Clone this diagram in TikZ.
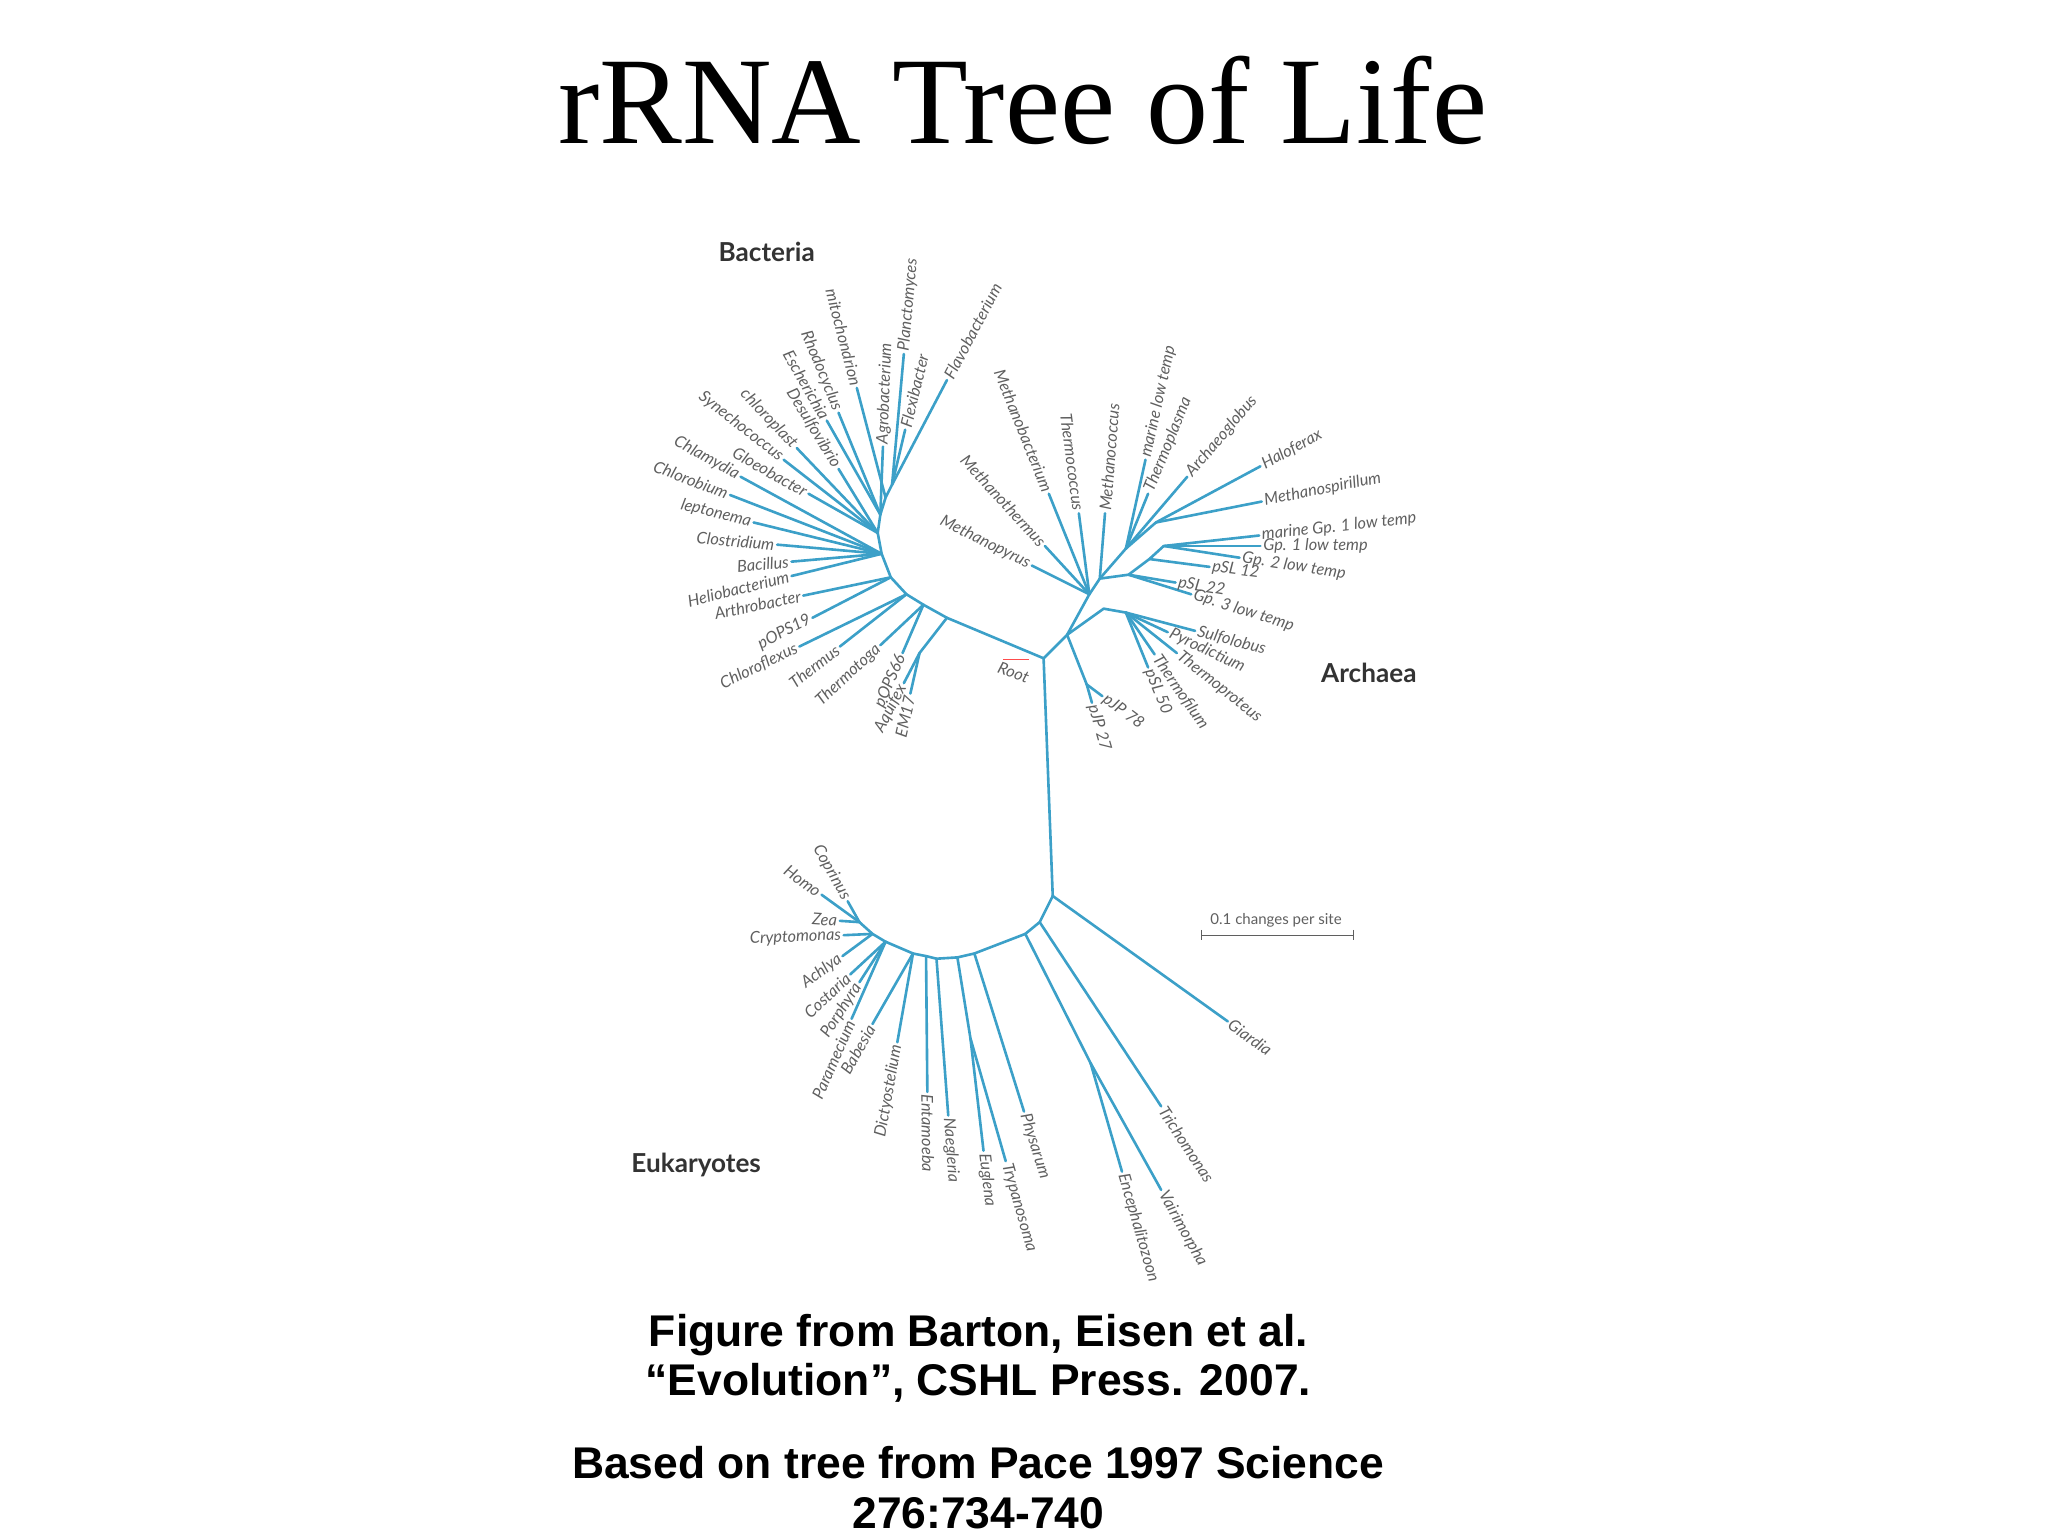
\documentclass[tikz,border=0pt]{standalone}
\usepackage{fontspec}
\setmainfont{Liberation Serif}
\newfontfamily\lato{Lato}
\newfontfamily\arial{Liberation Sans}
\usetikzlibrary{calc}
\definecolor{branch}{RGB}{60,160,200}
\definecolor{labgray}{RGB}{95,95,95}
\tikzset{
  br/.style={draw=branch,line width=2pt,line cap=round,line join=round},
  lab/.style={font=\lato\itshape\fontsize{12.5}{13}\selectfont,text=labgray,inner sep=2pt},
  sl/.style={anchor=east,rotate=180},
  sr/.style={anchor=west},
  grp/.style={font=\lato\bfseries\fontsize{20}{22}\selectfont,text=black!80},
  cite/.style={font=\arial\bfseries\fontsize{34}{38}\selectfont,align=center}
}
\newcommand\lf[5]{%
  \coordinate (#3) at #2;
  \draw[br] (#1) -- (#3);
  \path let \p1=($(#3)-(#1)$), \n1={atan2(\y1,\x1)} in
    node[lab,rotate=\n1,#5] at (#3) {#4};}
\begin{document}
\begin{tikzpicture}[x=1pt,y=-1pt]
\useasboundingbox (0,0) rectangle (1568,1176);
\node[font=\fontsize{95}{100}\selectfont,anchor=base] (title) at (783,110) {rRNA Tree of Life};

% root and trunk
\coordinate (R) at (799,504);
\coordinate (E0) at (806,686);
\draw[br] (R) -- (E0);
\coordinate (rr1) at (768,505); \coordinate (rr2) at (788,505);
\draw[red!70,line width=1.2pt] (rr1) -- (rr2);
\node[lab,rotate=-20] (root) at (776,515) {Root};

% ---------- Bacteria
\coordinate (b1) at (725,473); \coordinate (b2) at (707,463); \coordinate (b3) at (694,455);
\coordinate (b4) at (682,442); \coordinate (b5) at (675,424); \coordinate (b6) at (672,408);
\coordinate (b7) at (674,394); \coordinate (b8) at (678,381); \coordinate (b9) at (683,371);
\coordinate (ba) at (704,500);
\draw[br] (R) -- (b1) -- (b2) -- (b3) -- (b4) -- (b5) -- (b6) -- (b7) -- (b8) -- (b9);
\draw[br] (b1) -- (ba);
\lf{ba}{(697,531)}{em17}{EM17}{sl}
\lf{ba}{(692,523)}{aqu}{Aquifex}{sl}
\lf{b2}{(691,500)}{pops66}{pOPS66}{sl}
\lf{b2}{(674,494)}{tmtoga}{Thermotoga}{sl}
\lf{b3}{(643,495)}{thermus}{Thermus}{sl}
\lf{b3}{(612,495)}{cflex}{Chloroflexus}{sl}
\lf{b4}{(622,473)}{pops19}{pOPS19}{sl}
\lf{b4}{(615,456)}{arthro}{Arthrobacter}{sl}
\lf{b5}{(606,441)}{helio}{Heliobacterium}{sl}
\lf{b5}{(606,430)}{bacil}{Bacillus}{sl}
\lf{b5}{(595,417)}{clost}{Clostridium}{sl}
\lf{b5}{(577,400)}{lepto}{leptonema}{sl}
\lf{b5}{(559,379)}{chlorob}{Chlorobium}{sl}
\lf{b5}{(567,365)}{chlam}{Chlamydia}{sl}
\lf{b6}{(619,378)}{gloeo}{Gloeobacter}{sl}
\lf{b6}{(600,352)}{syn}{Synechococcus}{sl}
\lf{b6}{(610,343)}{chlp}{chloroplast}{sl}
\lf{b6}{(642,359)}{desulf}{Desulfovibrio}{sl}
\lf{b7}{(633,322)}{esch}{Escherichia}{sl}
\lf{b7}{(642,316)}{rhodo}{Rhodocyclus}{sl}
\lf{b8}{(656,297)}{mito}{mitochondrion}{sl}
\lf{b7}{(676,342)}{agro}{Agrobacterium}{sr}
\lf{b9}{(692,271)}{planc}{Planctomyces}{sr}
\lf{b9}{(693,329)}{flexi}{Flexibacter}{sr}
\lf{b9}{(725,291)}{flavo}{Flavobacterium}{sr}
\node[grp] (bact) at (587,193) {Bacteria};

% ---------- Archaea
\coordinate (A0) at (817,486); \coordinate (A1) at (834,455); \coordinate (A2) at (842,443);
\coordinate (A3) at (862,420); \coordinate (A4) at (885,400);
\coordinate (C) at (845,466); \coordinate (C2) at (862,469);
\coordinate (pj) at (832,524);
\coordinate (G) at (864,440); \coordinate (g2) at (880,428); \coordinate (g3) at (891,418);
\draw[br] (R) -- (A0) -- (A1) -- (A2) -- (A3) -- (A4);
\draw[br] (A0) -- (C) -- (C2);
\draw[br] (A0) -- (pj);
\draw[br] (A2) -- (G) -- (g2) -- (g3);
\lf{pj}{(844,533)}{pjp78}{pJP 78}{sr}
\lf{pj}{(836,538)}{pjp27}{pJP 27}{sr}
\lf{C2}{(915,483)}{sulfo}{Sulfolobus}{sr}
\lf{C2}{(894,484)}{pyro}{Pyrodictium}{sr}
\lf{C2}{(901,500)}{tprot}{Thermoproteus}{sr}
\lf{C2}{(884,501)}{tfil}{Thermofilum}{sr}
\lf{C2}{(879,511)}{psl50}{pSL 50}{sr}
\lf{G}{(912,455)}{gp3}{Gp. 3 low temp}{sr}
\lf{G}{(900,446)}{psl22}{pSL 22}{sr}
\lf{g2}{(926,434)}{psl12}{pSL 12}{sr}
\lf{g3}{(949,427)}{gp2}{Gp. 2 low temp}{sr}
\lf{g3}{(965,418)}{gp1}{Gp. 1 low temp}{sr}
\lf{g3}{(964,410)}{mgp1}{marine Gp. 1 low temp}{sr}
\lf{A4}{(966,384)}{mspir}{Methanospirillum}{sr}
\lf{A4}{(965,357)}{halo}{Haloferax}{sr}
\lf{A3}{(909,365)}{archg}{Archaeoglobus}{sr}
\lf{A3}{(879,378)}{tplas}{Thermoplasma}{sr}
\lf{A3}{(877,352)}{mlow}{marine low temp}{sr}
\lf{A2}{(846,393)}{mcoc}{Methanococcus}{sr}
\lf{A1}{(826,393)}{tcoc}{Thermococcus}{sl}
\lf{A1}{(803,378)}{mbact}{Methanobacterium}{sl}
\lf{A1}{(800,418)}{mtherm}{Methanothermus}{sl}
\lf{A1}{(790,433)}{mpyr}{Methanopyrus}{sl}
\node[grp] (arch) at (1048,515) {Archaea};

% ---------- Eukaryotes
\coordinate (e1) at (796,706); \coordinate (e2) at (785,715); \coordinate (e3) at (746,730);
\coordinate (e4) at (733,733); \coordinate (e5) at (717,734); \coordinate (e6) at (709,732);
\coordinate (e7) at (699,730); \coordinate (e8) at (678,721); \coordinate (e9) at (668,715);
\coordinate (e10) at (658,706);
\coordinate (ev) at (835,814); \coordinate (et) at (743,795);
\draw[br] (E0) -- (e1) -- (e2) -- (e3) -- (e4) -- (e5) -- (e6) -- (e7) -- (e8) -- (e9) -- (e10);
\draw[br] (e2) -- (ev);
\draw[br] (e4) -- (et);
\lf{E0}{(940,782)}{giar}{Giardia}{sr}
\lf{e1}{(889,847)}{trich}{Trichomonas}{sr}
\lf{ev}{(889,911)}{vair}{Vairimorpha}{sr}
\lf{ev}{(859,897)}{ence}{Encephalitozoon}{sr}
\lf{e3}{(784,851)}{phys}{Physarum}{sr}
\lf{et}{(770,889)}{tryp}{Trypanosoma}{sr}
\lf{et}{(753,881)}{eugl}{Euglena}{sr}
\lf{e5}{(726,854)}{naeg}{Naegleria}{sr}
\lf{e6}{(710,836)}{ent}{Entamoeba}{sr}
\lf{e7}{(687,798)}{dicty}{Dictyostelium}{sl}
\lf{e7}{(668,784)}{babe}{Babesia}{sl}
\lf{e8}{(652,780)}{para}{Paramecium}{sl}
\lf{e8}{(658,752)}{porph}{Porphyra}{sl}
\lf{e8}{(651,746)}{costa}{Costaria}{sl}
\lf{e9}{(645,732)}{achl}{Achlya}{sl}
\lf{e9}{(646,716)}{crypt}{Cryptomonas}{sl}
\lf{e10}{(643,705)}{zea}{Zea}{sl}
\lf{e10}{(629,685)}{homo}{Homo}{sl}
\lf{e10}{(649,690)}{copr}{Coprinus}{sl}
\node[grp] (euk) at (533,892) {Eukaryotes};

% scale bar
\coordinate (s1) at (920,716); \coordinate (s2) at (1036,716);
\draw[labgray,line width=1pt] (s1) -- (s2);
\draw[labgray,line width=1pt] (s1) ++(0,-4) -- ++(0,8) (s2) ++(0,-4) -- ++(0,8);
\node[lab,font=\lato\fontsize{11.5}{12}\selectfont,anchor=base] (scale) at (977,708) {0.1 changes per site};

% citation
\node[cite] (c1) at (749,1040) {Figure from Barton, Eisen et al.\\“Evolution”, CSHL Press. 2007.};
\node[cite] (c2) at (749,1139) {Based on tree from Pace 1997 Science\\276:734-740};
\end{tikzpicture}
\end{document}
